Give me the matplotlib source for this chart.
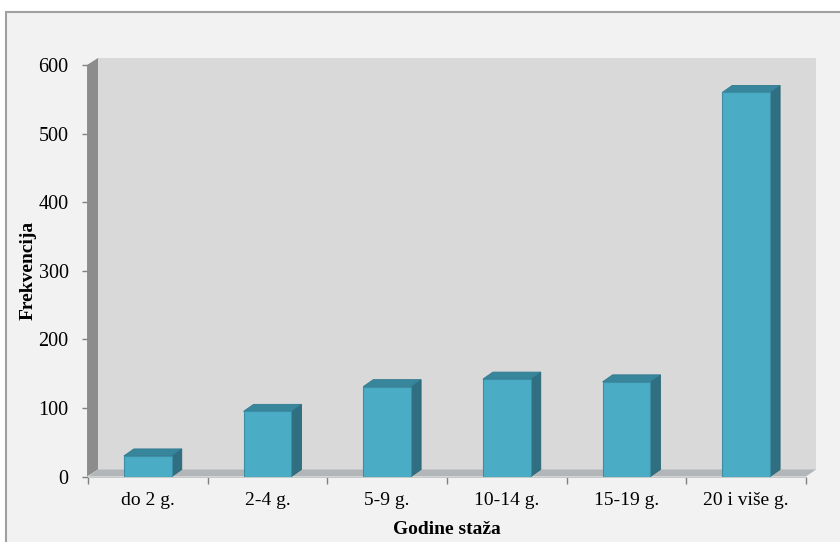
import numpy as np
import matplotlib.pyplot as plt
from matplotlib.patches import Polygon, Rectangle

# podaci
kategorije = ['do 2 g.', '2-4 g.', '5-9 g.', '10-14 g.', '15-19 g.', '20 i više g.']
frekvencije = [30, 95, 131, 142, 138, 560]
y_ticks = [0, 100, 200, 300, 400, 500, 600]

plt.rcParams['font.family'] = ['Liberation Serif', 'DejaVu Serif']

fig = plt.figure(figsize=(8.4, 5.42), dpi=100)
fig.patch.set_facecolor('white')

# okvir grafikona
fig.patches.append(Rectangle((6 / 840, -0.1), 1.2, (542 - 12) / 542 + 0.1,
                             transform=fig.transFigure, facecolor='#f2f2f2',
                             edgecolor='#a0a0a0', linewidth=1.5, zorder=-5))

ax = fig.add_axes([88 / 840, 65.5 / 542, 718 / 840, 411.5 / 542])
ax.set_facecolor('none')
ax.set_xlim(-0.5, len(kategorije) - 0.5)
ax.set_ylim(0, 600)

# dubina 3D efekta u jedinicama podataka
dx = 10 / (718 / 6)
dy = 7 / (411.5 / 600)
x0, x1 = -0.5, len(kategorije) - 0.5

# zadnji zid, lijevi zid i pod
ax.add_patch(Polygon([(x0 + dx, dy), (x1 + dx, dy), (x1 + dx, 600 + dy), (x0 + dx, 600 + dy)],
                     closed=True, facecolor='#d9d9d9', edgecolor='none', clip_on=False, zorder=1))
ax.add_patch(Polygon([(x0 - 0.008, 0), (x0 - 0.008, 600), (x0 + dx, 600 + dy), (x0 + dx, dy)],
                     closed=True, facecolor='#8c8c8c', edgecolor='none', clip_on=False, zorder=2))
ax.add_patch(Polygon([(x0, 0), (x1, 0), (x1 + dx, dy), (x0 + dx, dy)],
                     closed=True, facecolor='#b2b6b8', edgecolor='none', clip_on=False, zorder=2))
ax.add_patch(Polygon([(x0, -1.5), (x1, -1.5), (x1, 0), (x0, 0)],
                     closed=True, facecolor='#c6c9ca', edgecolor='none', clip_on=False, zorder=2))

# stupci s bočnom i gornjom plohom
x = np.arange(len(kategorije))
w = 0.4
ax.bar(x, frekvencije, width=w, color='#4bacc6', edgecolor='#3d8ea5', linewidth=0.8, zorder=5)
for xi, v in zip(x, frekvencije):
    bok = [(xi + w / 2, 0), (xi + w / 2, v), (xi + w / 2 + dx, v + dy), (xi + w / 2 + dx, dy)]
    vrh = [(xi - w / 2, v), (xi + w / 2, v), (xi + w / 2 + dx, v + dy), (xi - w / 2 + dx, v + dy)]
    ax.add_patch(Polygon(bok, closed=True, facecolor='#2f6f81', edgecolor='#2a6474',
                         linewidth=0.6, clip_on=False, zorder=4))
    ax.add_patch(Polygon(vrh, closed=True, facecolor='#38869c', edgecolor='#317990',
                         linewidth=0.6, clip_on=False, zorder=4))

# osi
for s in ax.spines.values():
    s.set_visible(False)
ax.set_yticks(y_ticks)
ax.set_yticklabels([str(t) for t in y_ticks], fontsize=14.5)
ax.set_xticks(np.arange(-0.5, len(kategorije)), minor=False)
ax.set_xticklabels([])
ax.set_xticks(x, minor=True)
ax.set_xticklabels(kategorije, minor=True, fontsize=14)
ax.tick_params(axis='y', length=4, width=1, color='#808080', pad=10)
ax.tick_params(axis='x', which='major', length=5, width=1, color='#808080', direction='out')
ax.tick_params(axis='x', which='minor', length=0, pad=11)

ax.set_ylabel('Frekvencija', fontsize=14, fontweight='bold', labelpad=1)
ax.set_xlabel('Godine staža', fontsize=14, fontweight='bold', labelpad=9)

fig.savefig('out.png', dpi=100)
